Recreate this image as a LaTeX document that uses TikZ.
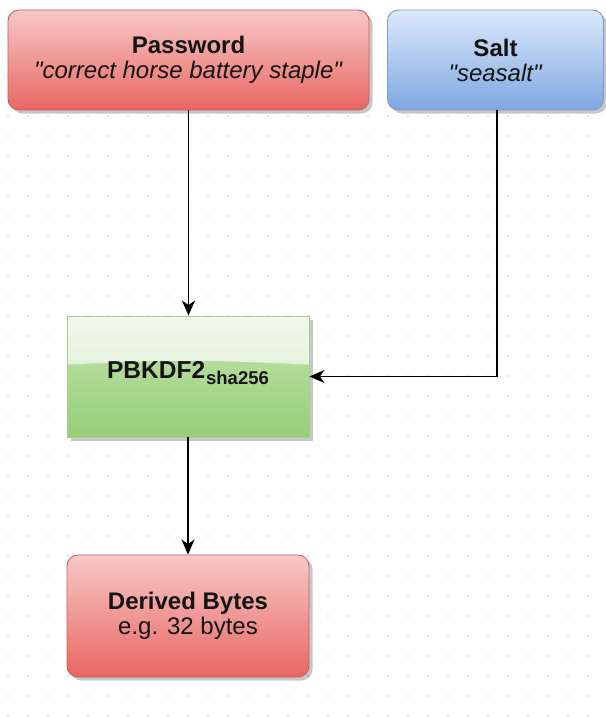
\documentclass[tikz,border=0pt]{standalone}
\usepackage{fontspec}
\setmainfont{Liberation Sans}[Ligatures=TeXOff]
\usetikzlibrary{arrows.meta,shadows}

\definecolor{redA}{HTML}{F7C9C7}
\definecolor{redB}{HTML}{E96663}
\definecolor{redS}{HTML}{C8605C}
\definecolor{blueA}{HTML}{DCE9FC}
\definecolor{blueB}{HTML}{7FA7E1}
\definecolor{blueS}{HTML}{7C9CCB}
\definecolor{greenA}{HTML}{C4E5B2}
\definecolor{greenB}{HTML}{96CE76}
\definecolor{greenS}{HTML}{A3D08B}
\definecolor{glassA}{HTML}{F1F8EE}
\definecolor{glassB}{HTML}{D2EBC5}
\definecolor{dotc}{HTML}{C9C9C9}
\definecolor{txt}{HTML}{141414}

\tikzset{
  box/.style={draw, line width=0.9pt, inner sep=0pt, align=center, text=txt,
    font=\fontsize{24}{25}\selectfont,
    drop shadow={shadow xshift=3.5pt, shadow yshift=-3.5pt, fill=black, opacity=0.22}},
  roundbox/.style={box, rounded corners=11pt},
  redbox/.style={roundbox, draw=redS, top color=redA, bottom color=redB},
  bluebox/.style={roundbox, draw=blueS, top color=blueA, bottom color=blueB},
  greenbox/.style={box, draw=greenS, top color=greenA, bottom color=greenB},
  flow/.style={line width=1.7pt, draw=black,
    -{Stealth[length=15pt, width=13pt, inset=4.5pt]}},
}

\begin{document}
\begin{tikzpicture}[x=1pt, y=-1pt]
  \useasboundingbox[fill=white] (0,0) rectangle (605,717);

  % dotted background grid
  \foreach \i in {0,...,29}
    \foreach \j in {0,...,35}
      \fill[dotc] (8+20*\i, 16+20*\j) circle (0.85pt);

  % inputs
  \node[redbox, minimum width=361pt, minimum height=100pt] (pw) at (188.5,60)
    {\textbf{Password}\\\textit{"correct horse battery staple"}};
  \node[bluebox, minimum width=216pt, minimum height=100pt] (salt) at (495.5,60)
    {\textbf{Salt}\\\textit{"seasalt"}};

  % key derivation function, with a glossy upper half
  \node[greenbox, minimum width=242pt, minimum height=121pt,
    path picture={
      \shade[top color=glassA, bottom color=glassB]
        (path picture bounding box.north west) -- (path picture bounding box.north east)
        -- ([yshift=12pt]path picture bounding box.east)
        .. controls ([yshift=17pt]path picture bounding box.center)
        .. ([yshift=12pt]path picture bounding box.west) -- cycle;
    }] (kdf) at (188,376.5) {};
  \node[text=txt, inner sep=0pt, anchor=base] (kdflabel) at ([yshift=-2pt]kdf.center)
    {\fontsize{24.5}{26}\selectfont\bfseries PBKDF2\kern1pt\raisebox{-6pt}{\fontsize{18.5}{18}\selectfont sha256}};

  % output
  \node[redbox, minimum width=242pt, minimum height=122pt] (out) at (188,616)
    {\textbf{Derived Bytes}\\e.g. 32 bytes};

  % connectors
  \draw[flow] (pw.south) -- (pw.south |- kdf.north);
  \draw[flow] ([xshift=1.5pt]salt.south) |- (kdf.east);
  \draw[flow] (kdf.south) -- (out.north);
\end{tikzpicture}
\end{document}
